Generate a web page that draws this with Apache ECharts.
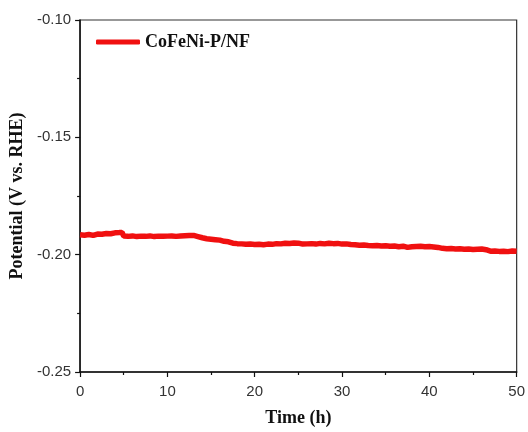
<!DOCTYPE html>
<html>
<head>
<meta charset="utf-8">
<script src="https://cdn.jsdelivr.net/npm/echarts@6/dist/echarts.min.js"></script>
<style>html,body{margin:0;padding:0;background:#fff;}#c{width:528px;height:432px;}</style>
</head>
<body>
<div id="c"></div>
<script>
const seriesName = 'CoFeNi-P/NF';
const timeH = [0,0.5,1,1.5,2,2.5,3,3.5,4,4.5,4.8,5,5.5,6,6.5,7,7.5,8,8.5,9,9.5,10,10.5,11,11.5,12,12.5,13,13.5,14,14.5,15,15.5,16,16.5,17,17.5,18,18.5,19,19.5,20,20.5,21,21.5,22,22.5,23,23.5,24,24.5,25,25.5,26,26.5,27,27.5,28,28.5,29,29.5,30,30.5,31,31.5,32,32.5,33,33.5,34,34.5,35,35.5,36,36.5,37,37.5,38,38.5,39,39.5,40,40.5,41,41.5,42,42.5,43,43.5,44,44.5,45,45.5,46,46.5,47,47.5,48,48.5,49,49.5,50];
const potential = [-0.1915,-0.1917,-0.1914,-0.1918,-0.1912,-0.1913,-0.1910,-0.1911,-0.1907,-0.1906,-0.1905,-0.1921,-0.1922,-0.1920,-0.1923,-0.1921,-0.1922,-0.1920,-0.1923,-0.1921,-0.1922,-0.1921,-0.1920,-0.1922,-0.1920,-0.1919,-0.1918,-0.1918,-0.1923,-0.1928,-0.1932,-0.1934,-0.1936,-0.1938,-0.1943,-0.1945,-0.1951,-0.1953,-0.1954,-0.1956,-0.1955,-0.1957,-0.1956,-0.1958,-0.1955,-0.1956,-0.1953,-0.1954,-0.1951,-0.1952,-0.1950,-0.1951,-0.1955,-0.1954,-0.1953,-0.1955,-0.1952,-0.1954,-0.1951,-0.1953,-0.1952,-0.1955,-0.1954,-0.1957,-0.1958,-0.1960,-0.1959,-0.1961,-0.1962,-0.1961,-0.1963,-0.1962,-0.1964,-0.1963,-0.1966,-0.1964,-0.1969,-0.1966,-0.1965,-0.1964,-0.1966,-0.1965,-0.1967,-0.1969,-0.1973,-0.1975,-0.1974,-0.1976,-0.1975,-0.1977,-0.1976,-0.1978,-0.1977,-0.1976,-0.1979,-0.1985,-0.1984,-0.1986,-0.1985,-0.1987,-0.1984,-0.1985];
const xTitle = 'Time (h)';
const yTitle = 'Potential (V vs. RHE)';

const data = timeH.map((t, i) => [t, potential[i]]);
const chart = echarts.init(document.getElementById('c'), null, {renderer: 'canvas'});
const serif = 'Liberation Serif, Times New Roman, serif';
const axisCommon = {
  axisLine: {show: true, lineStyle: {color: '#111', width: 1.5}},
  axisTick: {show: true, inside: false, length: 5, lineStyle: {color: '#111', width: 1.2}},
  minorTick: {show: true, splitNumber: 2, length: 3, lineStyle: {color: '#111', width: 1.2}},
  splitLine: {show: false},
  axisLabel: {color: '#333', fontFamily: 'Liberation Sans, Arial, sans-serif', fontSize: 15}
};
chart.setOption({
  animation: false,
  backgroundColor: '#fff',
  grid: {left: 79, right: 7, top: 20, bottom: 56, show: true, borderColor: '#333', borderWidth: 1.2, backgroundColor: 'transparent'},
  legend: {
    left: 91, top: 28, icon: 'roundRect', itemWidth: 44, itemHeight: 5, itemGap: 4,
    textStyle: {fontFamily: serif, fontWeight: 'bold', fontSize: 18, color: '#111'},
    data: [seriesName]
  },
  xAxis: Object.assign({
    type: 'value', min: 0, max: 50, interval: 10,
    name: xTitle, nameLocation: 'middle', nameGap: 37,
    nameTextStyle: {fontFamily: serif, fontWeight: 'bold', fontSize: 18, color: '#111'}
  }, axisCommon, {axisLabel: Object.assign({}, axisCommon.axisLabel, {margin: 12})}),
  yAxis: Object.assign({
    type: 'value', min: -0.25, max: -0.10, interval: 0.05,
    name: yTitle, nameLocation: 'middle', nameGap: 50,
    nameTextStyle: {fontFamily: serif, fontWeight: 'bold', fontSize: 18, color: '#111'}
  }, axisCommon, {axisLabel: Object.assign({}, axisCommon.axisLabel, {margin: 9, formatter: v => v.toFixed(2)})}),
  series: [{
    name: seriesName, type: 'line', data: data, showSymbol: false, symbol: 'none',
    lineStyle: {color: '#f01010', width: 5.5}, itemStyle: {color: '#f01010'}
  }]
});
</script>
</body>
</html>
